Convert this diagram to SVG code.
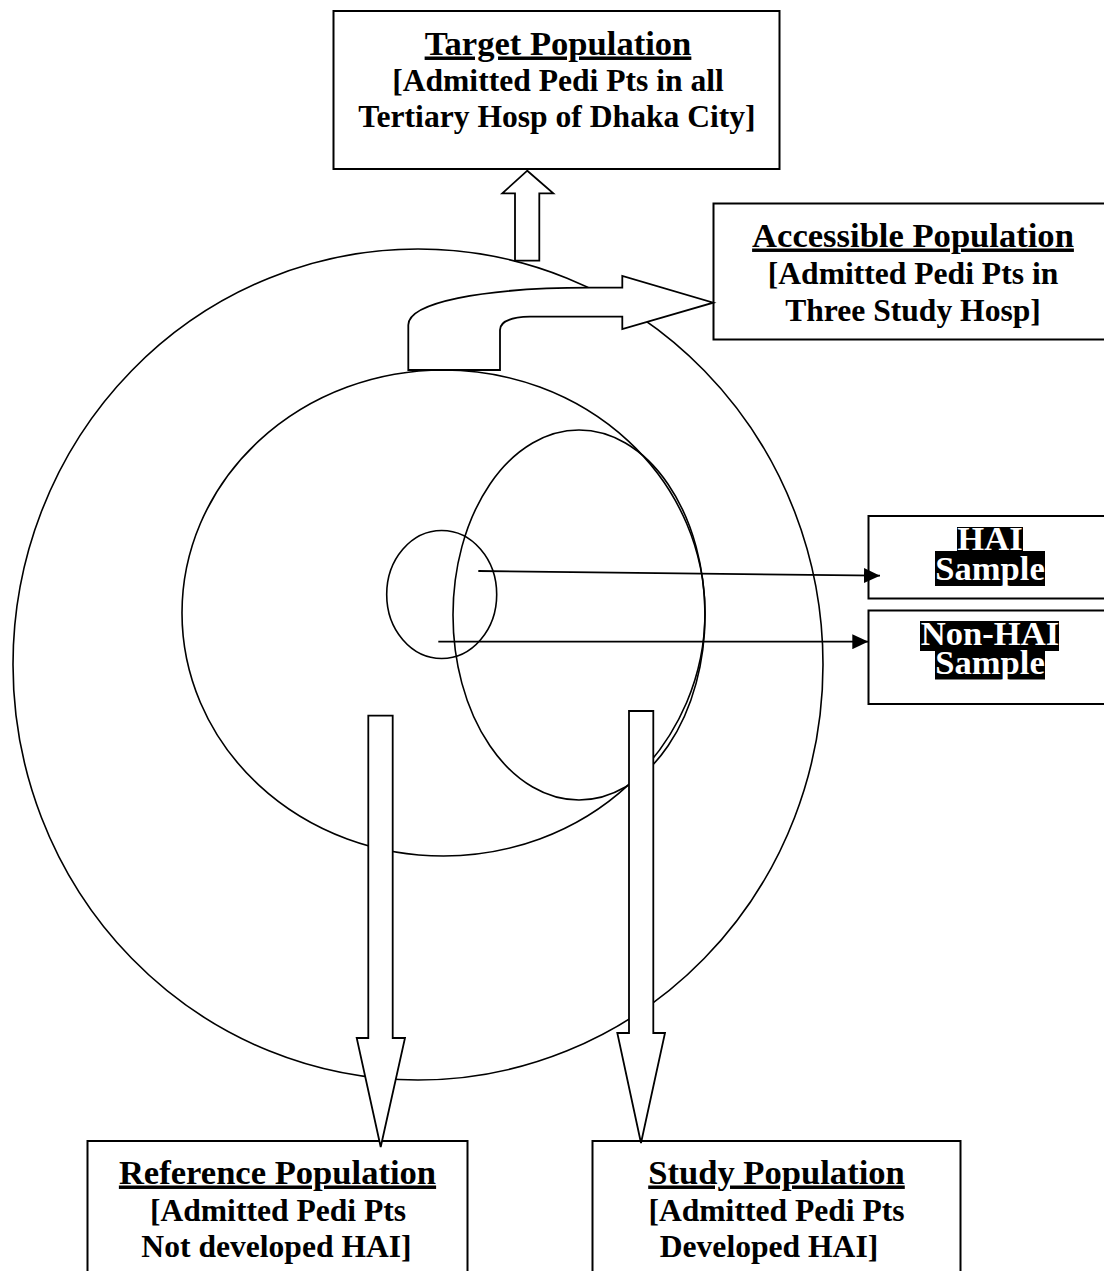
<svg xmlns="http://www.w3.org/2000/svg" width="1104" height="1271" viewBox="0 0 1104 1271">
<style>
.box{fill:none;stroke:#000;stroke-width:2}
.ring{fill:none;stroke:#000;stroke-width:1.6}
.blk{fill:#fff;stroke:#000;stroke-width:1.8;stroke-linejoin:miter}
.ln{fill:none;stroke:#000;stroke-width:1.8}
text{font-family:"Liberation Serif","Times New Roman",serif;font-weight:bold;text-anchor:middle;fill:#000}
.t{font-size:34.6px;text-decoration:underline}
.b{font-size:31.6px}
.w{font-size:34.6px;fill:#fff}
.hl{fill:#000}
</style>
<defs>
<marker id="ah" markerUnits="userSpaceOnUse" markerWidth="16" markerHeight="15" refX="16" refY="7.5" orient="auto">
<path d="M0,0 L16,7.5 L0,15 Z" fill="#000"/>
</marker>
</defs>
<rect width="1104" height="1271" fill="#fff"/>
<g id="circles">
<ellipse class="ring" cx="418" cy="664.5" rx="405" ry="415.5"/>
<ellipse class="ring" cx="443.5" cy="613" rx="261.5" ry="243"/>
<ellipse class="ring" cx="579" cy="615" rx="126" ry="185"/>
<ellipse class="ring" cx="441.7" cy="594.5" rx="55" ry="64"/>
</g>
<g id="target">
<rect class="box" x="333.5" y="11" width="446" height="158"/>
<text class="t" x="558" y="54.5">Target Population</text>
<text class="b" x="558" y="90.5">[Admitted Pedi Pts in all</text>
<text class="b" x="557" y="126.5">Tertiary Hosp of Dhaka City]</text>
</g>
<g id="accessible">
<rect class="box" x="713.5" y="203.5" width="400" height="136"/>
<text class="t" x="913" y="246.5">Accessible Population</text>
<text class="b" x="913" y="284">[Admitted Pedi Pts in</text>
<text class="b" x="913" y="320.5">Three Study Hosp]</text>
</g>
<g id="hai">
<rect class="box" x="868.5" y="516" width="250" height="82.5"/>
<rect class="hl" x="957" y="527" width="66" height="24"/>
<rect class="hl" x="935" y="551" width="110" height="35"/>
<text class="w" x="990" y="550">HAI<tspan x="990" y="579.5">Sample</tspan></text>
</g>
<g id="nonhai">
<rect class="box" x="868.5" y="610.5" width="250" height="93.5"/>
<rect class="hl" x="920" y="621" width="139" height="30"/>
<rect class="hl" x="935" y="650.5" width="110" height="29"/>
<text class="w" x="990" y="645">Non-HAI<tspan x="990" y="673.5">Sample</tspan></text>
</g>
<g id="reference">
<rect class="box" x="87.5" y="1141" width="380" height="140"/>
<text class="t" x="277.5" y="1183.5">Reference Population</text>
<text class="b" x="278" y="1221">[Admitted Pedi Pts</text>
<text class="b" x="276.5" y="1256.5">Not developed HAI]</text>
</g>
<g id="study">
<rect class="box" x="592.5" y="1141" width="368" height="140"/>
<text class="t" x="776.5" y="1183.5">Study Population</text>
<text class="b" x="776.5" y="1220.5">[Admitted Pedi Pts</text>
<text class="b" x="769" y="1256.5">Developed HAI]</text>
</g>
<g id="connectors">
<path class="blk" d="M515,260.7 L515,193.3 L502.3,193.3 L527.3,170.7 L553.3,193.3 L539.3,193.3 L539.3,260.7 Z"/>
<path class="blk" d="M408.3,370 L408.3,325 C408.3,303 480,287.7 590,287.7 L622.3,287.7 L622.3,276 L713.3,302.7 L622.3,329 L622.3,316.7 L530,316.7 Q500,317.5 500,330 L500,370 Z"/>
<path class="blk" d="M368.3,715.7 L392.7,715.7 L392.7,1038 L405,1038 L380.7,1147 L356.7,1038 L368.3,1038 Z"/>
<path class="blk" d="M629,711 L653.3,711 L653.3,1033 L665,1033 L641,1143 L617.3,1033 L629,1033 Z"/>
<path class="ln" d="M478.3,571 L880,575.7" marker-end="url(#ah)"/>
<path class="ln" d="M438.3,641.7 L868.3,641.7" marker-end="url(#ah)"/>
</g>
</svg>
